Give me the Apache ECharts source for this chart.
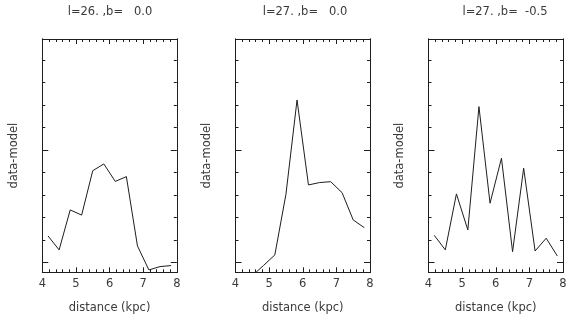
<!DOCTYPE html>
<html>
<head>
<meta charset="utf-8">
<script src="https://cdn.jsdelivr.net/npm/echarts@6/dist/echarts.min.js"></script>
<style>
html,body{margin:0;padding:0;background:#fff;}
#chart{width:570px;height:323px;}
</style>
</head>
<body>
<div id="chart"></div>
<script>
// ---- data ----
const distances = [4.17, 4.5, 4.83, 5.17, 5.5, 5.83, 6.17, 6.5, 6.83, 7.17, 7.5, 7.83];
const panelA = [0.234, 0.11, 0.466, 0.42, 0.816, 0.876, 0.72, 0.763, 0.145, -0.069, -0.039, -0.03];
const panelB = [-0.2, -0.12, -0.03, 0.065, 0.606, 1.446, 0.689, 0.71, 0.718, 0.62, 0.377, 0.308];
const panelC = [0.24, 0.11, 0.609, 0.288, 1.387, 0.526, 0.927, 0.094, 0.838, 0.10, 0.214, 0.056];
const titles = ['l=26. ,b=   0.0', 'l=27. ,b=   0.0', 'l=27. ,b=  -0.5'];
const xTickValues = [4, 5, 6, 7, 8];
const yMajorTicks = [0, 1];
const yMinorTicks = [0.2, 0.4, 0.6, 0.8, 1.2, 1.4, 1.6, 1.8];
const xLabel = 'distance (kpc)';
const yLabel = 'data-model';

// ---- layout ----
const panelLefts = [42.3, 235.5, 428.5];
const panelWidth = 134.5;
const titleCenters = [110, 305, 505];
const gridTop = 39;
const gridHeight = 233.3;
const FONT = 'DejaVu Sans';
const FS = 11.5;
const TXT = '#3a3a3a';
const LINE = '#1e1e1e';

const chart = echarts.init(document.getElementById('chart'), null, {renderer: 'canvas'});

const series = [panelA, panelB, panelC];
const grids = [], xAxes = [], yAxes = [], seriesList = [], graphics = [];

series.forEach((vals, i) => {
  grids.push({left: panelLefts[i], top: gridTop, width: panelWidth, height: gridHeight, outerBoundsMode: 'none', containLabel: false});
  ['bottom', 'top'].forEach(pos => {
    xAxes.push({
      type: 'value', gridIndex: i, position: pos, min: 4, max: 8, interval: 1,
      axisLine: {show: true, onZero: false, lineStyle: {color: LINE, width: 1}},
      axisTick: {show: true, inside: true, length: 5, lineStyle: {color: LINE}},
      minorTick: {show: true, splitNumber: 5, length: 3, lineStyle: {color: LINE}},
      splitLine: {show: false}, minorSplitLine: {show: false},
      axisLabel: {show: pos === 'bottom', color: TXT, fontFamily: FONT, fontSize: FS, margin: 6,
        customValues: xTickValues},
      name: pos === 'bottom' ? xLabel : '',
      nameLocation: 'middle', nameGap: 30,
      nameTextStyle: {color: TXT, fontFamily: FONT, fontSize: FS}
    });
  });
  ['left', 'right'].forEach(pos => {
    [['major', yMajorTicks, 6], ['minor', yMinorTicks, 3]].forEach(([kind, ticks, len]) => {
      yAxes.push({
        type: 'value', gridIndex: i, position: pos, min: -0.09, max: 1.99,
        axisLine: {show: true, onZero: false, lineStyle: {color: LINE, width: 1}},
        axisTick: {show: true, inside: true, length: len, customValues: ticks, lineStyle: {color: LINE}},
        axisLabel: {show: false},
        splitLine: {show: false},
        name: (pos === 'left' && kind === 'major') ? yLabel : '',
        nameLocation: 'middle', nameGap: 22, nameRotate: 90,
        nameTextStyle: {color: TXT, fontFamily: FONT, fontSize: FS}
      });
    });
  });
  seriesList.push({
    type: 'line', xAxisIndex: i * 2, yAxisIndex: i * 4,
    data: distances.map((d, k) => [d, vals[k]]),
    symbol: 'none', clip: true, animation: false,
    lineStyle: {color: LINE, width: 1}
  });
  graphics.push({
    type: 'text', x: titleCenters[i], y: 12,
    style: {text: titles[i], fill: TXT, font: FS + 'px "' + FONT + '"', textAlign: 'center', textVerticalAlign: 'middle'}
  });
});

chart.setOption({
  animation: false,
  backgroundColor: '#fff',
  grid: grids,
  xAxis: xAxes,
  yAxis: yAxes,
  series: seriesList,
  graphic: graphics
});
</script>
</body>
</html>
